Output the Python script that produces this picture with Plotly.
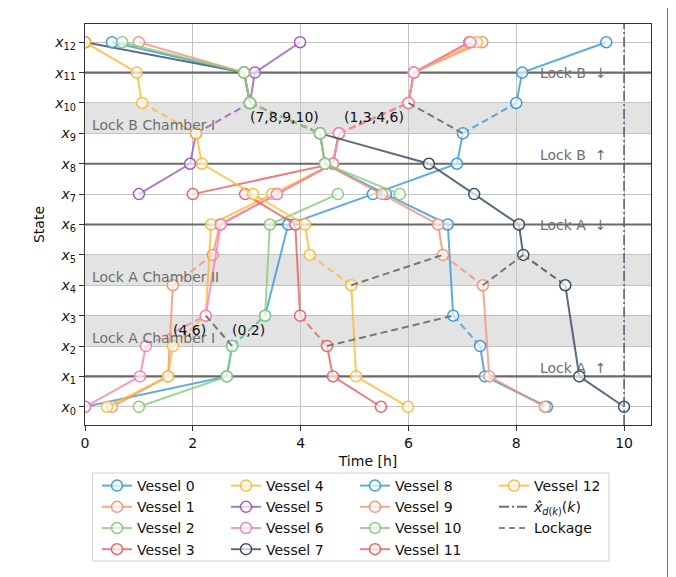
import plotly.graph_objects as go

# ---------------- data ----------------
# time [h] at which each vessel reaches each state
v0_t = [0.00, 2.63, 2.73, 3.34, 3.77, 5.34, 6.90, 7.01, 8.00, 8.11, 9.67]
v0_s = [0, 1, 2, 3, 6, 7, 8, 9, 10, 11, 12]
v1_t = [0.50, 1.54, 1.63, 2.37, 2.50, 3.56, 4.60, 4.71, 6.00, 6.10, 7.37]
v1_s = [0, 1, 4, 5, 6, 7, 8, 9, 10, 11, 12]
v2_t = [1.00, 2.63, 2.73, 3.34, 3.43, 4.69]
v2_s = [0, 1, 2, 3, 6, 7]
v3_t = [2.00, 4.60, 4.71, 6.00, 6.10, 7.13]
v3_s = [7, 8, 9, 10, 11, 12]
v4_t = [0.41, 1.54, 1.63, 2.24, 2.34, 3.47, 4.60, 4.71, 6.00, 6.10, 7.27]
v4_s = [0, 1, 2, 3, 6, 7, 8, 9, 10, 11, 12]
v5_t = [1.00, 1.95, 2.06, 3.06, 3.15, 3.99]
v5_s = [7, 8, 9, 10, 11, 12]
v6_t = [0.00, 1.02, 1.13, 2.24, 2.52, 3.56, 4.60, 4.71, 6.00, 6.10, 7.15]
v6_s = [0, 1, 2, 3, 6, 7, 8, 9, 10, 11, 12]
v7_t = [0.00, 2.95, 3.06, 4.36, 6.38, 7.22, 8.05, 8.13, 8.91, 9.17, 10.00]
v7_s = [12, 11, 10, 9, 8, 7, 6, 5, 4, 1, 0]
v8_t = [0.50, 2.95, 3.06, 4.36, 4.45, 5.58, 6.73, 6.83, 7.33, 7.42, 8.57]
v8_s = [12, 11, 10, 9, 8, 7, 6, 3, 2, 1, 0]
v9_t = [1.00, 2.95, 3.06, 4.36, 4.45, 5.51, 6.55, 6.64, 7.38, 7.50, 8.53]
v9_s = [12, 11, 10, 9, 8, 7, 6, 5, 4, 1, 0]
v10_t = [0.69, 2.95, 3.06, 4.36, 4.45, 5.84]
v10_s = [12, 11, 10, 9, 8, 7]
v11_t = [2.97, 3.90, 3.99, 4.49, 4.60, 5.49]
v11_s = [7, 6, 3, 2, 1, 0]
v12_t = [0.00, 0.96, 1.06, 2.06, 2.17, 3.12, 4.08, 4.17, 4.94, 5.03, 5.99]
v12_s = [12, 11, 10, 9, 8, 7, 6, 5, 4, 1, 0]

vessel_times = [v0_t, v1_t, v2_t, v3_t, v4_t, v5_t, v6_t, v7_t, v8_t, v9_t, v10_t, v11_t, v12_t]
vessel_states = [v0_s, v1_s, v2_s, v3_s, v4_s, v5_s, v6_s, v7_s, v8_s, v9_s, v10_s, v11_s, v12_s]
vessel_names = [f"Vessel {i}" for i in range(13)]

# lock chambers (pairs of states) and their names
chamber_states = [(2, 3), (4, 5), (9, 10)]
chamber_names = ["Lock A Chamber I", "Lock A Chamber II", "Lock B Chamber I"]
# lock reference states
lock_states = [1, 6, 8, 11]
lock_names = ["Lock A \u2191", "Lock A \u2193", "Lock B \u2191", "Lock B \u2193"]

# empty chamber movements (lockage without vessels)
empty_t0 = [2.24, 4.49, 4.94, 7.38, 6.00]
empty_s0 = [3, 2, 4, 4, 10]
empty_t1 = [2.73, 6.83, 6.64, 8.13, 7.01]
empty_s1 = [2, 3, 5, 5, 9]

# joint lockages (vessel groups)
group_vessels = [[7, 8, 9, 10], [1, 3, 4, 6], [4, 6], [0, 2]]
group_chamber = [(9, 10), (9, 10), (2, 3), (2, 3)]

horizon = 10.0
x_ticks = [0, 2, 4, 6, 8, 10]
y_ticks = list(range(13))
y_ticklabels = [f"<i>x</i><sub>{k}</sub>" for k in y_ticks]

palette = ["#3498db", "#f5926f", "#86cc7a", "#ec5b5b", "#fdb933", "#9b59b6", "#f281b5", "#34495e"]

X_RANGE = [0, 10.5]
Y_RANGE = [-0.6, 12.6]

def rgba(hex_c, a):
    h = hex_c.lstrip("#")
    r, g, b = int(h[0:2], 16), int(h[2:4], 16), int(h[4:6], 16)
    return f"rgba({r},{g},{b},{a})"

def in_chamber(a, b):
    return tuple(sorted((a, b))) in chamber_states

fig = go.Figure()

legend_of = lambda i: ["legend", "legend2", "legend3", "legend4"][i // 4]

for i, (ts, ss) in enumerate(zip(vessel_times, vessel_states)):
    c = palette[i % len(palette)]
    sx, sy, dx, dy = [], [], [], []
    for k in range(len(ts)):
        if k > 0 and in_chamber(ss[k - 1], ss[k]):
            sx.append(None); sy.append(None)
            dx += [ts[k - 1], ts[k], None]; dy += [ss[k - 1], ss[k], None]
        sx.append(ts[k]); sy.append(ss[k])
    fig.add_trace(go.Scatter(
        x=dx, y=dy, mode="lines", showlegend=False, hoverinfo="skip",
        line=dict(color=rgba(c, 0.8), width=2, dash="7px,4px")))
    fig.add_trace(go.Scatter(
        x=sx, y=sy, mode="lines+markers", name=vessel_names[i],
        legend=legend_of(i),
        line=dict(color=rgba(c, 0.8), width=2),
        marker=dict(symbol="circle", size=11, color="rgba(255,255,255,0.65)",
                    line=dict(color=rgba(c, 0.95), width=1.5))))

# empty lockages
lx, ly = [], []
for a, b, c_, d in zip(empty_t0, empty_s0, empty_t1, empty_s1):
    lx += [a, c_, None]; ly += [b, d, None]
fig.add_trace(go.Scatter(x=lx, y=ly, mode="lines", showlegend=False, hoverinfo="skip",
                         line=dict(color="#777777", width=2, dash="7px,4px")))

# horizon line
fig.add_trace(go.Scatter(x=[horizon, horizon], y=Y_RANGE, mode="lines", showlegend=False,
                         line=dict(color="#4f5b75", width=1.5, dash="10px,3px,2px,3px")))
# legend-only entries
fig.add_trace(go.Scatter(x=[None], y=[None], mode="lines", legend="legend4",
                         name="<i>x\u0302</i><sub><i>d</i>(<i>k</i>)</sub>(<i>k</i>)",
                         line=dict(color="#707070", width=2, dash="10px,3px,2px,3px")))
fig.add_trace(go.Scatter(x=[None], y=[None], mode="lines", legend="legend4", name="Lockage",
                         line=dict(color="#8a8a8a", width=2, dash="6px,4px")))

shapes = []
for lo, hi in chamber_states:
    shapes.append(dict(type="rect", xref="x", yref="y", x0=X_RANGE[0], x1=X_RANGE[1],
                       y0=lo, y1=hi, fillcolor="#e3e3e3", line_width=0, layer="below"))
for s in lock_states:
    shapes.append(dict(type="line", xref="x", yref="y", x0=X_RANGE[0], x1=X_RANGE[1],
                       y0=s, y1=s, line=dict(color="#6a6a6a", width=2.2), layer="between"))

# page pixel -> paper coordinates (plot area spans page px 85..651 x 24..425)
def px2px(x): return (x - 85) / 566
def py2py(y): return (425 - y) / 401
shapes.append(dict(type="rect", xref="paper", yref="paper", x0=px2px(92.5), x1=px2px(609),
                   y0=py2py(561), y1=py2py(473), line=dict(color="#d0d0d0", width=1),
                   fillcolor="rgba(255,255,255,0.8)", layer="below"))
# outer right border
shapes.append(dict(type="line", xref="paper", yref="paper", x0=px2px(667.5), x1=px2px(667.5),
                   y0=py2py(577), y1=py2py(8), line=dict(color="#777777", width=1)))

annotations = []
for (lo, hi), name in zip(chamber_states, chamber_names):
    annotations.append(dict(x=0.1, y=lo + 0.27, xref="x", yref="y", text=name, showarrow=False,
                            xanchor="left", yanchor="middle", font=dict(size=14, color="#6e6e6e")))
for s, name in zip(lock_states, lock_names):
    off = 0.28 if "\u2191" in name else 0.0
    annotations.append(dict(x=8.4, y=s + off, xref="x", yref="y", text=name.replace(" \u2191", "\u00a0\u00a0\u2191").replace(" \u2193", "\u00a0\u00a0\u2193"),
                            showarrow=False, xanchor="left", yanchor="middle",
                            font=dict(size=14, color="#6e6e6e")))
for grp, ch in zip(group_vessels, group_chamber):
    starts, ends = [], []
    for v in grp:
        ts, ss = vessel_times[v], vessel_states[v]
        for k in range(1, len(ts)):
            if tuple(sorted((ss[k - 1], ss[k]))) == ch:
                starts.append(ts[k - 1]); ends.append(ts[k])
    xm = (max(starts) + max(ends)) / 2
    annotations.append(dict(x=xm, y=(ch[0] + ch[1]) / 2 + 0.03, xref="x", yref="y",
                            text="(" + ",".join(str(v) for v in grp) + ")", showarrow=False,
                            xanchor="center", yanchor="middle", font=dict(size=14, color="#111")))

leg_common = dict(xanchor="left", yanchor="top", bgcolor="rgba(0,0,0,0)", borderwidth=0,
                  font=dict(size=14, color="#111"), itemwidth=30)
LEG_TOP = 470
fig.update_layout(
    width=668, height=569,
    margin=dict(l=77, r=25, t=16, b=152, autoexpand=False),
    plot_bgcolor="white", paper_bgcolor="white",
    font=dict(family="DejaVu Sans", size=14, color="#111"),
    xaxis=dict(range=X_RANGE, tickvals=x_ticks, showgrid=True, gridcolor="#c4c4c4", gridwidth=1.3,
               zeroline=False, showline=True, linecolor="#333", linewidth=1.3, mirror=True,
               ticks="outside", ticklen=5, tickcolor="#333", automargin=True,
               title=dict(text="Time [h]", standoff=6, font=dict(size=14))),
    yaxis=dict(range=Y_RANGE, tickvals=y_ticks, ticktext=y_ticklabels, showgrid=True,
               gridcolor="#c4c4c4", gridwidth=1.3, zeroline=False, showline=True, linecolor="#333",
               linewidth=1.3, mirror=True, ticks="outside", ticklen=5, tickcolor="#333",
               automargin=True, title=dict(text="State", standoff=6, font=dict(size=14))),
    legend=dict(x=px2px(97), y=py2py(LEG_TOP), **leg_common),
    legend2=dict(x=px2px(226), y=py2py(LEG_TOP), **leg_common),
    legend3=dict(x=px2px(355), y=py2py(LEG_TOP), **leg_common),
    legend4=dict(x=px2px(494), y=py2py(LEG_TOP), **leg_common),
    shapes=shapes, annotations=annotations,
)

fig.write_html("out.html")
